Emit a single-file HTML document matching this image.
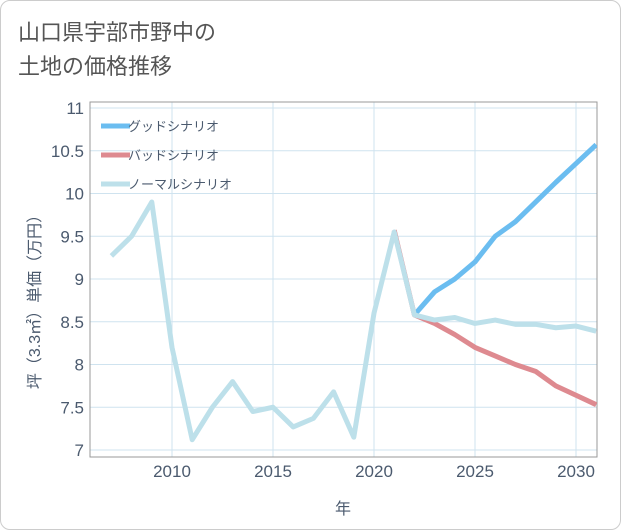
<!DOCTYPE html>
<html><head><meta charset="utf-8"><style>
body{margin:0;background:#fff;}
#card{position:absolute;left:0;top:0;width:619px;height:528px;border:1px solid #ccc;border-radius:10px;background:#fff;}
#title{position:absolute;left:18px;top:16px;font:22px "Liberation Sans","Noto Sans CJK JP",sans-serif;color:#555;line-height:34px;}
svg{position:absolute;left:0;top:0;}
text{font-family:"Liberation Sans","Noto Sans CJK JP",sans-serif;}
</style></head><body>
<div id="card"></div>
<div id="title">山口県宇部市野中の<br>土地の価格推移</div>
<svg id="chart" width="621" height="530"></svg>
<script>
const years=[2007,2008,2009,2010,2011,2012,2013,2014,2015,2016,2017,2018,2019,2020,2021,2022,2023,2024,2025,2026,2027,2028,2029,2030,2031];
const normal=[9.27,9.5,9.9,8.2,7.12,7.5,7.8,7.45,7.5,7.27,7.37,7.68,7.15,8.6,9.55,8.58,8.52,8.55,8.48,8.52,8.47,8.47,8.43,8.45,8.39];
const goodYears=[2022,2023,2024,2025,2026,2027,2028,2029,2030,2031];
const good=[8.58,8.85,9.0,9.2,9.5,9.67,9.9,10.13,10.35,10.57];
const badYears=[2021,2022,2023,2024,2025,2026,2027,2028,2029,2030,2031];
const bad=[9.57,8.58,8.48,8.35,8.2,8.1,8.0,7.92,7.75,7.64,7.53];
const yTicks=[7,7.5,8,8.5,9,9.5,10,10.5,11];
const yTickLabels=["7","7.5","8","8.5","9","9.5","10","10.5","11"];
const xTicks=[2010,2015,2020,2025,2030];
const legendLabels=["グッドシナリオ","バッドシナリオ","ノーマルシナリオ"];
const colors=["#6bbdf0","#de8a90","#bde0ea"];
const txt='#4b5a6e';

const L=90,R=597,T=102,B=457;
const x=v=>172+(v-2010)*20.2;
const y=v=>450-(v-7)*85.5;
const svg=document.getElementById('chart');
const NS='http://www.w3.org/2000/svg';
function mk(tag,attrs){const e=document.createElementNS(NS,tag);for(const k in attrs)e.setAttribute(k,attrs[k]);svg.appendChild(e);return e;}

yTicks.forEach((t,i)=>{
  const g=mk('line',{x1:L,x2:R,y1:y(t),y2:y(t),stroke:'#cfe3ef','stroke-width':1});
  
  
  const tx=mk('text',{x:84,y:y(t)+6,'text-anchor':'end','font-size':17,fill:txt});
  tx.textContent=yTickLabels[i];
  
  
});
xTicks.forEach(t=>{
  const g=mk('line',{x1:x(t),x2:x(t),y1:T,y2:B,stroke:'#cfe3ef','stroke-width':1});
  
  
  const tx=mk('text',{x:x(t),y:477,'text-anchor':'middle','font-size':17,fill:txt});
  tx.textContent=t;
  
  
});
const frame=mk('rect',{x:L,y:T,width:R-L,height:B-T,fill:'none',stroke:'#999','stroke-width':1});



const clip=mk('clipPath',{id:'c'});
const cr=document.createElementNS(NS,'rect');cr.setAttribute('x',L);cr.setAttribute('y',T);cr.setAttribute('width',R-L);cr.setAttribute('height',B-T);clip.appendChild(cr);

function line(xs,vs,color,name){
  const p=mk('polyline',{points:xs.map((yr,i)=>x(yr)+','+y(vs[i])).join(' '),fill:'none',stroke:color,'stroke-width':5,'stroke-linejoin':'round','clip-path':'url(#c)'});
  
  
}
line(badYears,bad,colors[1],'bad-scenario-line');
line(goodYears,good,colors[0],'good-scenario-line');
line(years,normal,colors[2],'normal-scenario-line');

legendLabels.forEach((lab,i)=>{
  const yy=126+i*29;
  const s=mk('line',{x1:101,x2:130,y1:yy,y2:yy,stroke:colors[i],'stroke-width':5});
  
  
  const t=mk('text',{x:128,y:yy+5,'font-size':13,fill:txt});
  t.textContent=lab;
  
  
});

const xt=mk('text',{x:343,y:514,'text-anchor':'middle','font-size':16,fill:txt});
xt.textContent='年';


const yt=mk('text',{x:0,y:0,'text-anchor':'middle','font-size':16,fill:txt,transform:'translate(40,298) rotate(-90)'});
yt.textContent='坪（3.3㎡）単価（万円）';


</script>
</body></html>
